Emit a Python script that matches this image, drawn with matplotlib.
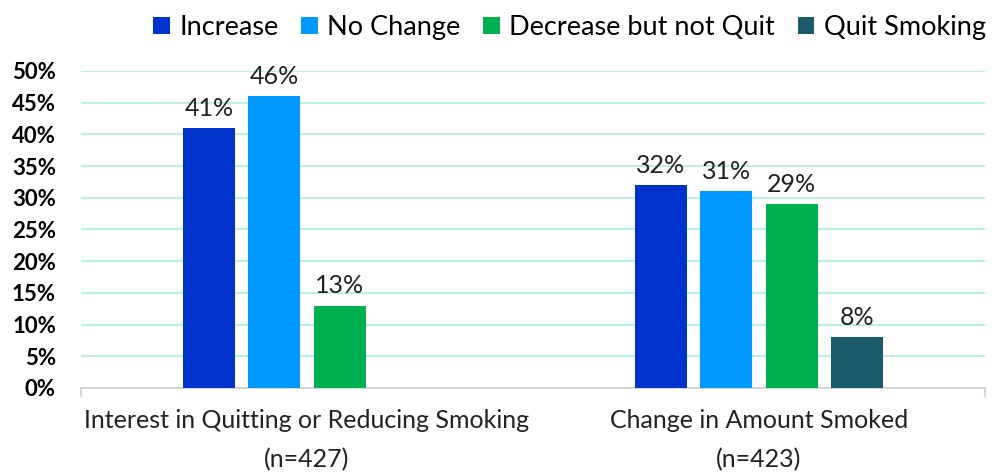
import matplotlib
matplotlib.use("Agg")
import matplotlib.pyplot as plt
import numpy as np

categories = ["Interest in Quitting or Reducing Smoking\n(n=427)",
              "Change in Amount Smoked\n(n=423)"]
series = ["Increase", "No Change", "Decrease but not Quit", "Quit Smoking"]
values = [
    [41, 32],
    [46, 31],
    [13, 29],
    [None, 8],
]
colors = ["#0033cc", "#0099ff", "#00b050", "#1b5a68"]
yticks = [0, 5, 10, 15, 20, 25, 30, 35, 40, 45, 50]

plt.rcParams["font.family"] = ["Lato", "DejaVu Sans"]

fig = plt.figure(figsize=(9.99, 4.76), dpi=100)
ax = fig.add_axes([0.081, 0.185, 0.905, 0.666])

x = np.arange(len(categories))
step = 0.1445
width = 0.115
for i, (name, vals, c) in enumerate(zip(series, values, colors)):
    off = (i - 1.5) * step
    for xi, v in zip(x, vals):
        if v is None:
            continue
        ax.bar(xi + off, v, width=width, color=c, zorder=3,
               label=name if xi == x[-1] else None)
        ax.text(xi + off, v + 1.3, f"{v}%", ha="center", va="bottom",
                fontsize=18, color="#222222")

ax.set_xlim(-0.5, 1.5)
ax.set_ylim(0, 50)
ax.set_yticks(yticks)
ax.set_yticklabels([f"{t}%" for t in yticks], fontsize=16, fontweight="bold")
ax.yaxis.grid(True, color="#aaf0dc", linewidth=1.2, zorder=0)
ax.set_xticks(x)
ax.set_xticklabels(categories, fontsize=18, linespacing=1.85, color="#222222")
ax.tick_params(axis="x", length=0, pad=15)
ax.tick_params(axis="y", length=0, pad=18)
for s in ["top", "right", "left"]:
    ax.spines[s].set_visible(False)
ax.spines["bottom"].set_color("#d0d0d0")
ax.spines["bottom"].set_linewidth(1.2)
for xb in [-0.5, 1.5]:
    ax.plot([xb, xb], [0, -1.2], color="#d0d0d0", lw=1.2, clip_on=False)

handles, labels = ax.get_legend_handles_labels()
fig.legend(handles, labels, loc="upper center", bbox_to_anchor=(0.57, 1.02),
           ncol=4, frameon=False, fontsize=19.5, handlelength=0.6,
           handleheight=0.6, handletextpad=0.35, columnspacing=0.85)

fig.savefig("out.png", dpi=100)
